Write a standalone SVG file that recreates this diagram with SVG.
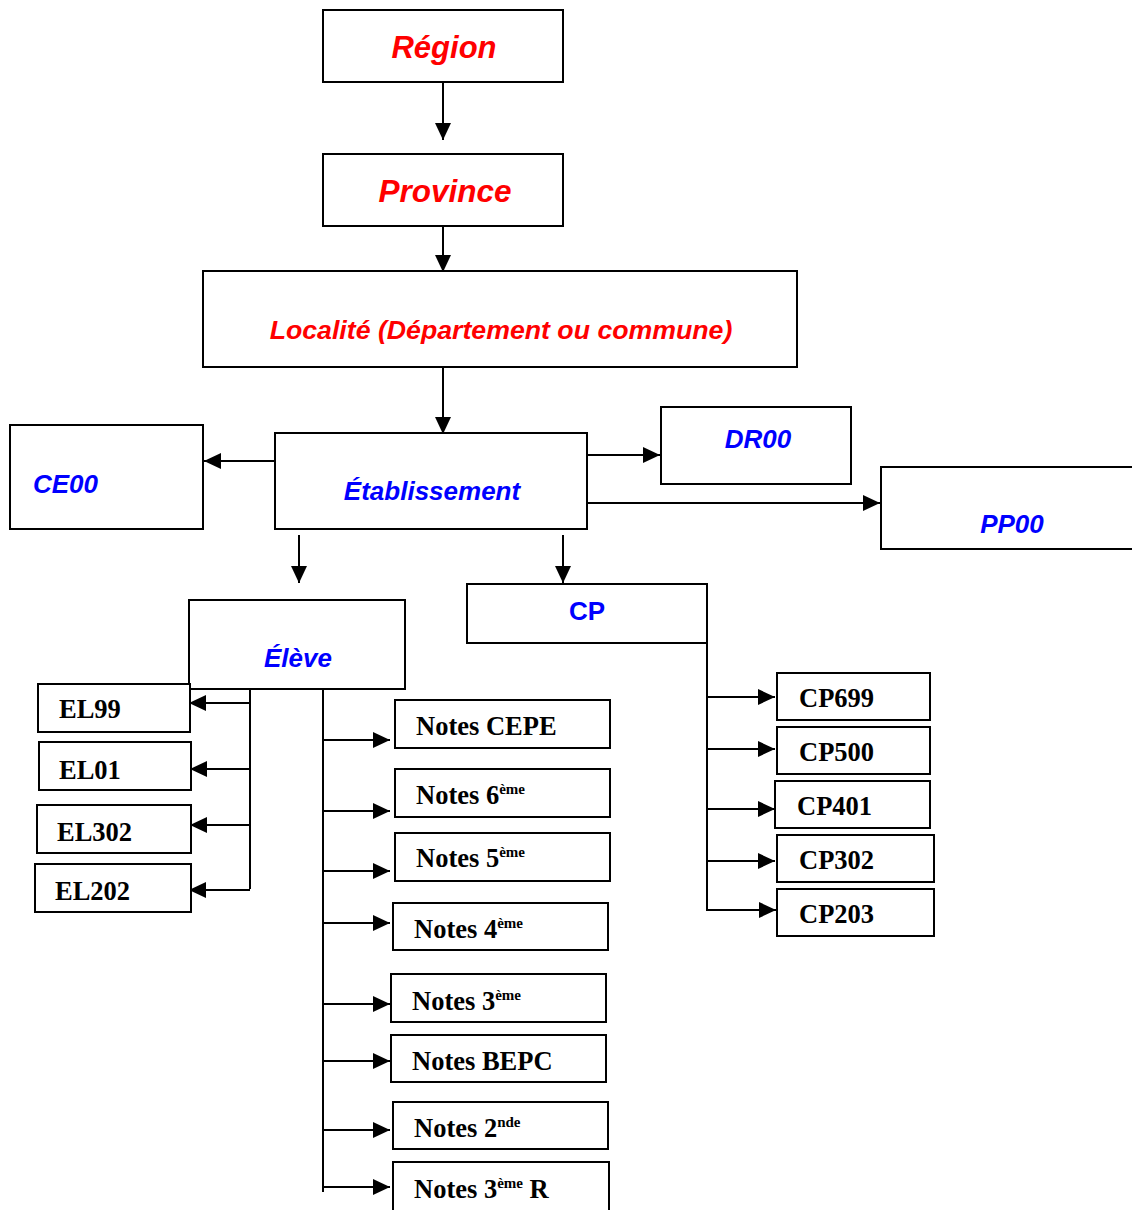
<svg xmlns="http://www.w3.org/2000/svg" width="1132" height="1210" viewBox="0 0 1132 1210">
<style>
.box{fill:#fff;stroke:#000;stroke-width:2}
.red{font-family:"Liberation Sans",Arial,sans-serif;font-weight:bold;font-style:italic;fill:#FF0000}
.blue{font-family:"Liberation Sans",Arial,sans-serif;font-weight:bold;font-style:italic;fill:#0000FF;font-size:26px}
.cp{font-family:"Liberation Sans",Arial,sans-serif;font-weight:bold;fill:#0000FF;font-size:26px}
.tm{font-family:"Liberation Serif","Times New Roman",serif;font-weight:bold;fill:#000;font-size:26.5px}
.sup{font-size:15px}
.ln{stroke:#000;stroke-width:2;fill:none}
.ar{stroke:#000;stroke-width:2;fill:none;marker-end:url(#ah)}
</style>
<defs>
<marker id="ah" markerUnits="userSpaceOnUse" markerWidth="17" markerHeight="16" refX="17" refY="8" orient="auto">
<path d="M0,0 L17,8 L0,16 z" fill="#000"/>
</marker>
</defs>
<rect width="1132" height="1210" fill="#fff"/>
<g id="connectors">
<line class="ar" x1="443" y1="82" x2="443" y2="140"/>
<line class="ar" x1="443" y1="226" x2="443" y2="272"/>
<line class="ar" x1="443" y1="367" x2="443" y2="434"/>
<line class="ar" x1="275" y1="461" x2="204" y2="461"/>
<line class="ar" x1="587" y1="455" x2="660" y2="455"/>
<line class="ar" x1="587" y1="503" x2="880" y2="503"/>
<line class="ar" x1="299" y1="535" x2="299" y2="583"/>
<line class="ar" x1="563" y1="535" x2="563" y2="583"/>
<line class="ln" x1="250" y1="689" x2="250" y2="889"/>
<line class="ar" x1="250" y1="703" x2="189" y2="703"/>
<line class="ar" x1="250" y1="769" x2="190" y2="769"/>
<line class="ar" x1="250" y1="825" x2="190" y2="825"/>
<line class="ar" x1="250" y1="890" x2="189" y2="890"/>
<line class="ln" x1="323" y1="689" x2="323" y2="1192"/>
<line class="ar" x1="323" y1="740" x2="390" y2="740"/>
<line class="ar" x1="323" y1="811" x2="390" y2="811"/>
<line class="ar" x1="323" y1="871" x2="390" y2="871"/>
<line class="ar" x1="323" y1="923" x2="390" y2="923"/>
<line class="ar" x1="323" y1="1004" x2="390" y2="1004"/>
<line class="ar" x1="323" y1="1061" x2="390" y2="1061"/>
<line class="ar" x1="323" y1="1130" x2="390" y2="1130"/>
<line class="ar" x1="323" y1="1187" x2="390" y2="1187"/>
<line class="ln" x1="707" y1="620" x2="707" y2="911"/>
<line class="ar" x1="706" y1="697" x2="775" y2="697"/>
<line class="ar" x1="706" y1="749" x2="775" y2="749"/>
<line class="ar" x1="706" y1="809" x2="775" y2="809"/>
<line class="ar" x1="706" y1="861" x2="775" y2="861"/>
<line class="ar" x1="706" y1="910" x2="776" y2="910"/>
</g>
<g id="region"><rect class="box" x="323" y="10" width="240" height="72"/><text class="red" x="444" y="58" font-size="31" text-anchor="middle">Région</text></g>
<g id="province"><rect class="box" x="323" y="154" width="240" height="72"/><text class="red" x="445" y="202" font-size="31.5" text-anchor="middle">Province</text></g>
<g id="localite"><rect class="box" x="203" y="271" width="594" height="96"/><text class="red" x="501" y="339" font-size="26.7" text-anchor="middle">Localité (Département ou commune)</text></g>
<g id="etablissement"><rect class="box" x="275" y="433" width="312" height="96"/><text class="blue" x="432" y="500" text-anchor="middle">Établissement</text></g>
<g id="ce00"><rect class="box" x="10" y="425" width="193" height="104"/><text class="blue" x="33" y="493">CE00</text></g>
<g id="dr00"><rect class="box" x="661" y="407" width="190" height="77"/><text class="blue" x="758" y="448" text-anchor="middle">DR00</text></g>
<g id="pp00"><rect class="box" x="881" y="467" width="260" height="82"/><text class="blue" x="1012" y="533" text-anchor="middle">PP00</text></g>
<g id="eleve"><rect class="box" x="189" y="600" width="216" height="89"/><text class="blue" x="298" y="667" text-anchor="middle">Élève</text></g>
<g id="cp"><rect class="box" x="467" y="584" width="240" height="59"/><text class="cp" x="587" y="620" text-anchor="middle">CP</text></g>
<g id="el99"><rect class="box" x="38" y="684" width="152" height="48"/><text class="tm" x="59" y="718">EL99</text></g>
<g id="el01"><rect class="box" x="39" y="742" width="152" height="48"/><text class="tm" x="59" y="779">EL01</text></g>
<g id="el302"><rect class="box" x="37" y="805" width="154" height="48"/><text class="tm" x="57" y="841">EL302</text></g>
<g id="el202"><rect class="box" x="35" y="864" width="156" height="48"/><text class="tm" x="55" y="900">EL202</text></g>
<g id="notes-cepe"><rect class="box" x="395" y="700" width="215" height="48"/><text class="tm" x="416" y="735">Notes CEPE</text></g>
<g id="notes-6"><rect class="box" x="395" y="769" width="215" height="48"/><text class="tm" x="416" y="804">Notes 6<tspan class="sup" dy="-10">ème</tspan></text></g>
<g id="notes-5"><rect class="box" x="395" y="833" width="215" height="48"/><text class="tm" x="416" y="867">Notes 5<tspan class="sup" dy="-10">ème</tspan></text></g>
<g id="notes-4"><rect class="box" x="393" y="903" width="215" height="47"/><text class="tm" x="414" y="938">Notes 4<tspan class="sup" dy="-10">ème</tspan></text></g>
<g id="notes-3"><rect class="box" x="391" y="974" width="215" height="48"/><text class="tm" x="412" y="1010">Notes 3<tspan class="sup" dy="-10">ème</tspan></text></g>
<g id="notes-bepc"><rect class="box" x="391" y="1035" width="215" height="47"/><text class="tm" x="412" y="1070">Notes BEPC</text></g>
<g id="notes-2"><rect class="box" x="393" y="1102" width="215" height="47"/><text class="tm" x="414" y="1137">Notes 2<tspan class="sup" dy="-10">nde</tspan></text></g>
<g id="notes-3r"><rect class="box" x="393" y="1162" width="216" height="50"/><text class="tm" x="414" y="1198">Notes 3<tspan class="sup" dy="-10">ème</tspan><tspan dy="10"> R</tspan></text></g>
<g id="cp699"><rect class="box" x="777" y="673" width="153" height="47"/><text class="tm" x="799" y="707">CP699</text></g>
<g id="cp500"><rect class="box" x="777" y="727" width="153" height="47"/><text class="tm" x="799" y="761">CP500</text></g>
<g id="cp401"><rect class="box" x="775" y="781" width="155" height="47"/><text class="tm" x="797" y="815">CP401</text></g>
<g id="cp302"><rect class="box" x="777" y="835" width="157" height="47"/><text class="tm" x="799" y="869">CP302</text></g>
<g id="cp203"><rect class="box" x="777" y="889" width="157" height="47"/><text class="tm" x="799" y="923">CP203</text></g>
</svg>
